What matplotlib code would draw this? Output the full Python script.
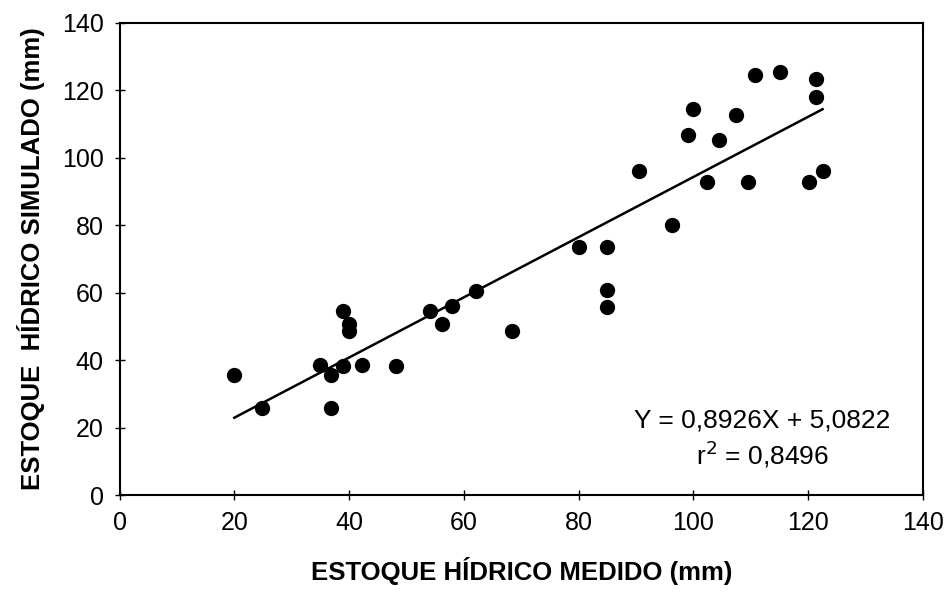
import matplotlib.pyplot as plt
import numpy as np

plt.rcParams['font.family'] = ['Liberation Sans', 'DejaVu Sans']

medido = [20.0, 24.9, 35.0, 36.8, 36.8, 39.0, 39.0, 40.0, 40.0, 42.2, 48.2, 54.1,
          56.2, 58.0, 62.2, 68.3, 80.0, 85.0, 85.0, 85.0, 90.5, 96.3, 99.0, 100.0,
          102.3, 104.4, 107.4, 109.5, 110.8, 115.1, 120.2, 121.3, 121.3, 122.5]
simulado = [35.7, 25.9, 38.7, 35.7, 25.9, 54.7, 38.2, 50.7, 48.7, 38.7, 38.2, 54.7,
            50.7, 56.1, 60.6, 48.7, 73.6, 73.6, 60.8, 55.8, 96.2, 80.0, 106.8, 114.4,
            92.8, 105.2, 112.8, 92.8, 124.6, 125.6, 92.8, 123.3, 118.0, 96.2]

a, b = 0.8926, 5.0822
xl = np.array([20, 122.5])

fig = plt.figure(figsize=(9.5, 6.03), dpi=100)
ax = fig.add_axes([0.1258, 0.179, 0.8458, 0.7829])

ax.plot(medido, simulado, 'o', color='black', markersize=10)
ax.plot(xl, a * xl + b, color='black', linewidth=1.8)

ax.set_xlim(0, 140)
ax.set_ylim(0, 140)
ax.set_xticks(range(0, 141, 20))
ax.set_yticks(range(0, 141, 20))
ax.tick_params(direction='inout', length=7, width=1, labelsize=18, pad=8)
for s in ax.spines.values():
    s.set_linewidth(1.5)

ax.set_xlabel('ESTOQUE HÍDRICO MEDIDO (mm)', fontsize=18.5, fontweight='bold', labelpad=16)
ax.set_ylabel('ESTOQUE  HÍDRICO SIMULADO (mm)', fontsize=18.5, fontweight='bold', labelpad=12)

ax.text(112, 22, 'Y = 0,8926X + 5,0822', fontsize=19, ha='center', va='center')
ax.text(112, 12, r'r$^2$ = 0,8496', fontsize=19, ha='center', va='center')

plt.savefig('out.png')
